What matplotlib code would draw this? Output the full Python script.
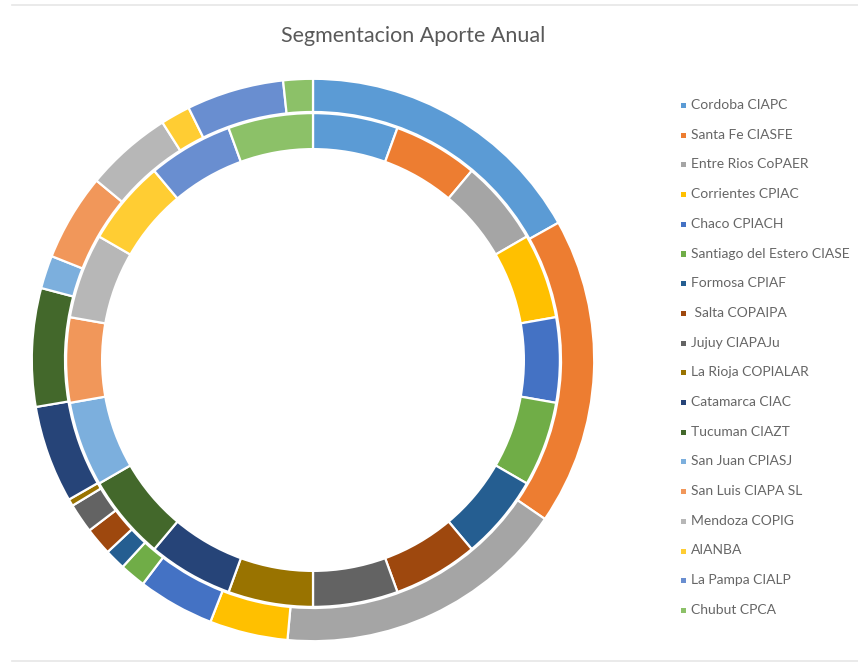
import matplotlib.pyplot as plt
from matplotlib.patches import Rectangle
from matplotlib.lines import Line2D

plt.rcParams['font.family'] = ['Lato', 'DejaVu Sans']

entidades = [
    "Cordoba CIAPC", "Santa Fe CIASFE", "Entre Rios CoPAER", "Corrientes CPIAC",
    "Chaco CPIACH", "Santiago del Estero CIASE", "Formosa CPIAF", " Salta COPAIPA",
    "Jujuy CIAPAJu", "La Rioja COPIALAR", "Catamarca CIAC", "Tucuman CIAZT",
    "San Juan CPIASJ", "San Luis CIAPA SL", "Mendoza COPIG", "AIANBA",
    "La Pampa CIALP", "Chubut CPCA",
]

# anillo exterior: aporte anual (%)
aporte_anual = [16.9, 17.7, 16.9, 4.5, 4.4, 1.5, 1.2, 1.6, 1.7,
                0.4, 5.6, 6.8, 1.9, 5.0, 5.0, 1.7, 5.6, 1.7]

# anillo interior: una porcion por entidad
participacion = [1, 1, 1, 1, 1, 1, 1, 1, 1,
                 1, 1, 1, 1, 1, 1, 1, 1, 1]

colores = [
    "#5B9BD5", "#ED7D31", "#A5A5A5", "#FFC000", "#4472C4", "#70AD47",
    "#255E91", "#9E480E", "#636363", "#997300", "#264478", "#43682B",
    "#7CAFDD", "#F1975A", "#B7B7B7", "#FFCD33", "#698ED0", "#8CC168",
]

W, H = 858, 665
fig = plt.figure(figsize=(W / 100, H / 100), dpi=100)

cx, cy, r = 313, 360, 284
ax = fig.add_axes([(cx - r) / W, (H - cy - r) / H, 2 * r / W, 2 * r / H])

borde = dict(edgecolor="white", linewidth=1.6)
ax.pie(aporte_anual, colors=colores, radius=1.0, startangle=90,
       counterclock=False, wedgeprops=dict(width=0.118, **borde))
ax.pie(participacion, colors=colores, radius=0.878, startangle=90,
       counterclock=False, wedgeprops=dict(width=0.128, **borde))
ax.set_xlim(-1.01, 1.01)
ax.set_ylim(-1.01, 1.01)
ax.set_aspect("equal")
ax.axis("off")

fig.text(413 / W, 1 - 36 / H, "Segmentacion Aporte Anual", ha="center",
         va="center", fontsize=15.5, color="#595959")

# leyenda a la derecha
y0, paso = 105, 29.7
for i, (nombre, c) in enumerate(zip(entidades, colores)):
    y = y0 + i * paso
    fig.add_artist(Rectangle((681 / W, 1 - (y + 3) / H), 5 / W, 5 / H,
                             transform=fig.transFigure, color=c, lw=0))
    fig.text(691 / W, 1 - y / H, nombre, ha="left", va="center",
             fontsize=10, color="#666666")

# lineas grises del marco
for yl in (5, 661):
    fig.add_artist(Line2D([12 / W, 1], [1 - yl / H, 1 - yl / H],
                          transform=fig.transFigure, color="#E6E6E6", lw=1.2))

fig.savefig("out.png", dpi=100, facecolor="white")
